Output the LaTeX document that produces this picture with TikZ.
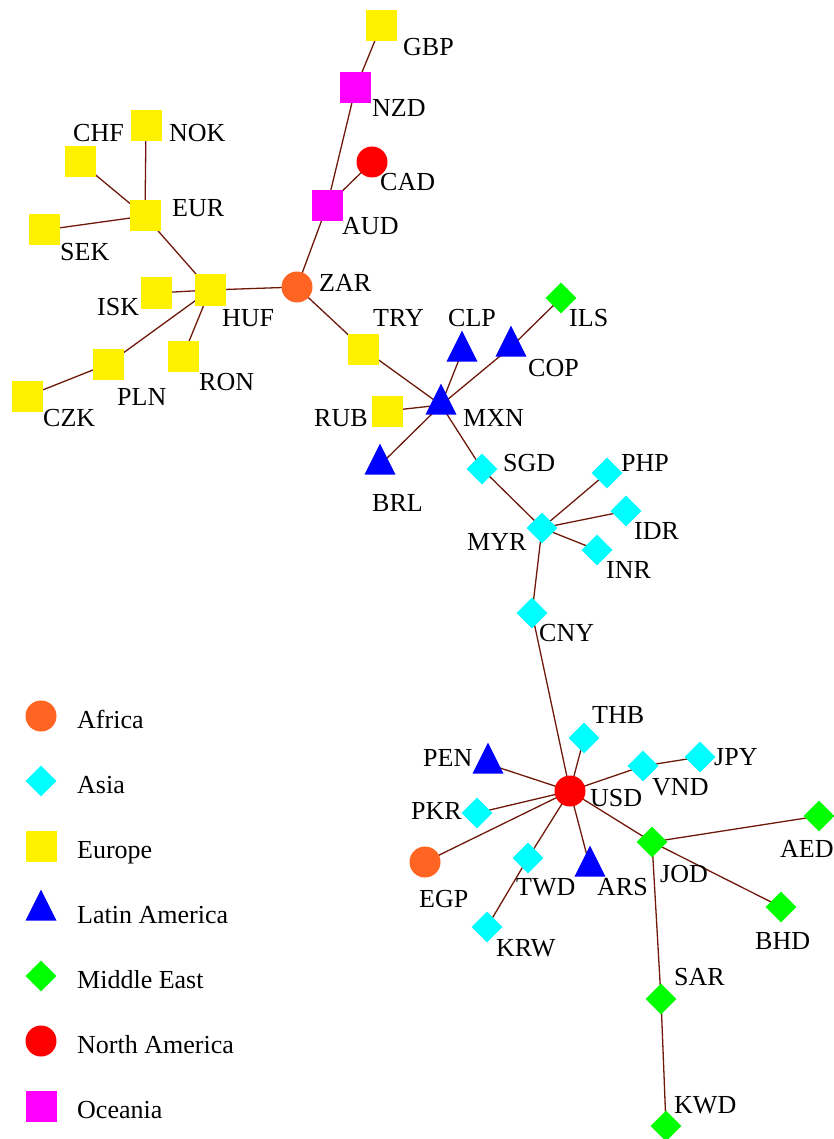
\documentclass[tikz,border=0pt]{standalone}
\usepackage{fontspec}
\setmainfont{Liberation Serif}
\newfontfamily\labelfont{Liberation Serif}
\usetikzlibrary{shapes.geometric,backgrounds}
\definecolor{afrorange}{RGB}{255,100,34}
\definecolor{asiacyan}{RGB}{0,255,255}
\definecolor{oceamagenta}{RGB}{255,0,255}
\definecolor{linkbrown}{RGB}{110,25,10}
\tikzset{
    cur/.style={inner sep=0pt, minimum size=31pt},
    europe/.style={cur, rectangle, fill=yellow},
    oceania/.style={cur, rectangle, fill=oceamagenta},
    africa/.style={cur, circle, fill=afrorange},
    namerica/.style={cur, circle, fill=red},
    latam/.style={cur, isosceles triangle, shape border rotate=90,
        isosceles triangle stretches, minimum width=31pt, minimum height=31pt, fill=blue},
    asia/.style={cur, diamond, fill=asiacyan},
    mideast/.style={cur, diamond, fill=green},
    lbl/.style={inner sep=0pt, anchor=west, text height=18pt, text depth=0pt,
        font=\labelfont\fontsize{26}{30}\selectfont},
    link/.style={draw=linkbrown, line width=1.3pt},
}

\begin{document}
\begin{tikzpicture}[x=1pt,y=-1pt]
    \useasboundingbox (0,0) rectangle (834,1139);
    % currencies: name/x/y/region/label x/label y
    \foreach \nm/\x/\y/\reg/\lx/\ly in {%
        GBP/381/26/europe/403/47,
        NZD/355.5/88/oceania/372/108,
        CAD/372/162/namerica/380/182,
        AUD/327/206/oceania/342/226,
        ZAR/297/287/africa/319/282,
        NOK/146/126/europe/169/133,
        CHF/80/162/europe/73/133,
        EUR/145/216/europe/172/208,
        SEK/44/230/europe/60/252,
        HUF/210/290/europe/222/317,
        ISK/156/293/europe/97/307,
        PLN/108/364/europe/117/396,
        RON/183/356/europe/199/381,
        CZK/27.5/396/europe/43/417,
        TRY/363.5/349/europe/373/317,
        RUB/387/411/europe/314/417,
        CLP/462/352/latam/448/317,
        COP/511/347/latam/528/367,
        ILS/561/298/mideast/569/317,
        MXN/441/405/latam/463/417,
        BRL/380/465/latam/372/502,
        SGD/482/469/asia/503/462,
        PHP/607/473/asia/621/462,
        IDR/626/511/asia/634/530,
        MYR/542/528/asia/467/541,
        INR/597/550/asia/606/569,
        CNY/532/613/asia/539/632,
        USD/570/791/namerica/590/797,
        THB/584/738/asia/592/714,
        PEN/488/764/latam/423/757,
        VND/643/766/asia/652/786,
        JPY/700/757/asia/714/756,
        PKR/477/813/asia/411/810,
        EGP/425/862/africa/419/898,
        TWD/528/858/asia/516/886,
        KRW/487/927/asia/496/947,
        ARS/590/867/latam/597/886,
        JOD/652/842/mideast/660/873,
        AED/819/816/mideast/780/848,
        BHD/781/907/mideast/755/940,
        SAR/661/999/mideast/674/976,
        KWD/666/1126/mideast/674/1104%
    }{
        \node[\reg] (\nm) at (\x,\y) {};
        \node[lbl] (l\nm) at (\lx,\ly) {\nm};
    }
    \begin{scope}[on background layer]
        \foreach \a/\b in {GBP/NZD, NZD/AUD, AUD/CAD, AUD/ZAR, ZAR/HUF, ZAR/TRY,
            HUF/EUR, EUR/NOK, EUR/CHF, EUR/SEK, HUF/ISK, HUF/PLN, PLN/CZK, HUF/RON,
            TRY/MXN, MXN/RUB, MXN/CLP, MXN/COP, COP/ILS, MXN/BRL, MXN/SGD, SGD/MYR,
            MYR/PHP, MYR/IDR, MYR/INR, MYR/CNY, CNY/USD, USD/THB, USD/PEN, USD/VND,
            VND/JPY, USD/PKR, USD/EGP, USD/TWD, TWD/KRW, USD/ARS, USD/JOD, JOD/AED,
            JOD/BHD, JOD/SAR, SAR/KWD}
            \draw[link] (\a.center) -- (\b.center);
    \end{scope}
    % legend
    \foreach \reg/\txt [count=\i from 0, evaluate=\i as \ky using 716+65*\i] in {%
        africa/Africa, asia/Asia, europe/Europe, latam/Latin America,
        mideast/Middle East, namerica/North America, oceania/Oceania%
    }{
        \node[\reg] (key\i) at (41,\ky) {};
        \node[lbl] (keytxt\i) at (77,\ky+3) {\txt};
    }
\end{tikzpicture}
\end{document}
